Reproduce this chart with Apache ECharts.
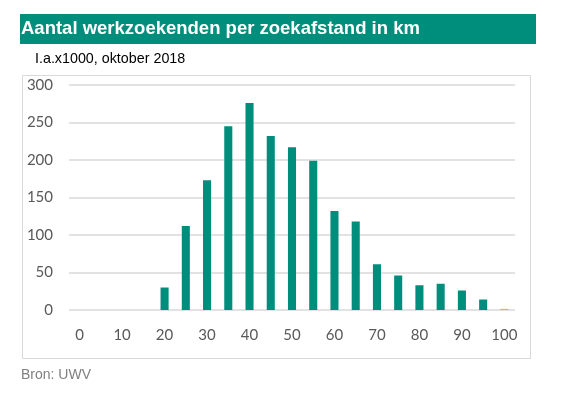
<!DOCTYPE html>
<html><head><meta charset="utf-8">
<script src="https://cdn.jsdelivr.net/npm/echarts@6/dist/echarts.min.js"></script>
<style>html,body{margin:0;padding:0;background:#fff}#c{width:569px;height:395px}</style>
</head><body><div id="c"></div>
<script>
const categories = ['0','5','10','15','20','25','30','35','40','45','50','55','60','65','70','75','80','85','90','95','100'];
const values = [0,0,0,0,30,112,173,245,276,232,217,199,132,118,61,46,33,35,26,14,1.5];
const yTicks = [0,50,100,150,200,250,300];
const titleText = 'Aantal werkzoekenden per zoekafstand in km';
const subtitleText = 'I.a.x1000, oktober 2018';
const sourceText = 'Bron: UWV';

const teal = '#008E7C';
const chart = echarts.init(document.getElementById('c'), null, {renderer:'canvas'});
chart.setOption({
  animation:false,
  graphic:[
    {type:'rect', left:20, top:14, shape:{width:516, height:30}, style:{fill:teal}, z:0},
    {type:'text', left:21, top:19, style:{text:titleText, fill:'#fff', font:'bold 18.5px "Liberation Sans", Arial, sans-serif'}},
    {type:'text', left:35, top:52, style:{text:subtitleText, fill:'#000', font:'14.3px "Liberation Sans", Arial, sans-serif'}},
    {type:'rect', left:20, top:73, shape:{width:508, height:283}, style:{fill:'none', stroke:'#d9d9d9', lineWidth:1}, z:0},
    {type:'text', left:21, top:368, style:{text:sourceText, fill:'#808080', font:'14px "Liberation Sans", Arial, sans-serif'}}
  ],
  grid:{left:69, right:54, top:85, bottom:85, containLabel:false},
  xAxis:{
    type:'category', data:categories,
    axisTick:{show:false},
    axisLine:{show:false},
    axisLabel:{interval:1, color:'#595959', fontSize:15, fontFamily:'Lato, "Open Sans", sans-serif', margin:18}
  },
  yAxis:{
    type:'value', min:0, max:300, interval:50,
    axisLine:{show:false}, axisTick:{show:false},
    splitLine:{lineStyle:{color:'#d9d9d9', width:1.5}},
    axisLabel:{color:'#595959', fontSize:15, fontFamily:'Lato, "Open Sans", sans-serif', margin:16,
      formatter:v => yTicks.includes(v) ? String(v) : ''}
  },
  series:[{
    type:'bar', barWidth:'38%',
    data:values.map((v,i)=> i===values.length-1 ? {value:v, itemStyle:{color:'#C9B77E'}} : v),
    itemStyle:{color:teal}
  }]
});
</script></body></html>
